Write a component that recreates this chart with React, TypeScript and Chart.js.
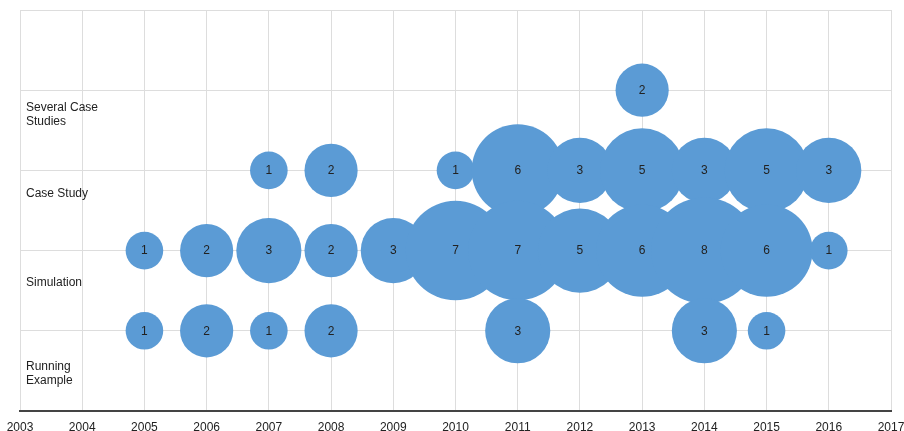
import React, { useEffect, useRef } from "react";
import { Chart, registerables } from "chart.js";

Chart.register(...registerables);

// Categories (bottom to top) and their row index on the y axis
const categories = ["Running Example", "Simulation", "Case Study", "Several Case Studies"];
const categoryLabelLines = [["Running", "Example"], ["Simulation"], ["Case Study"], ["Several Case", "Studies"]];
const xTickYears = [2003, 2004, 2005, 2006, 2007, 2008, 2009, 2010, 2011, 2012, 2013, 2014, 2015, 2016, 2017];

// Publication counts per category
const runningYears = [2005, 2006, 2007, 2008, 2011, 2014, 2015];
const runningCounts = [1, 2, 1, 2, 3, 3, 1];

const simulationYears = [2005, 2006, 2007, 2008, 2009, 2010, 2011, 2012, 2013, 2014, 2015, 2016];
const simulationCounts = [1, 2, 3, 2, 3, 7, 7, 5, 6, 8, 6, 1];

const caseStudyYears = [2007, 2008, 2010, 2011, 2012, 2013, 2014, 2015, 2016];
const caseStudyCounts = [1, 2, 1, 6, 3, 5, 3, 5, 3];

const severalYears = [2013];
const severalCounts = [2];

// label anchor (in y-axis units) for each category text
const labelAnchors = [0.46, 1.6, 2.71, 3.69];

const BUBBLE = "#5b9bd5";
const GRID = "#dddddd";
const TEXT = "#222222";
const FONT = "'Liberation Sans', Arial, Helvetica, sans-serif";

function build(years: number[], counts: number[], row: number) {
  return years.map((y, i) => ({ x: y, y: row, count: counts[i] }));
}

const labelsPlugin = {
  id: "bubbleLabels",
  afterDatasetsDraw(chart: any) {
    const ctx = chart.ctx;
    ctx.save();
    ctx.fillStyle = TEXT;
    ctx.font = `12px ${FONT}`;
    ctx.textAlign = "center";
    ctx.textBaseline = "middle";
    chart.data.datasets.forEach((ds: any, di: number) => {
      const meta = chart.getDatasetMeta(di);
      meta.data.forEach((el: any, i: number) => {
        ctx.fillText(String(ds.data[i].count), el.x, el.y + 0.5);
      });
    });
    // category labels
    const ys = chart.scales.y;
    const left = chart.chartArea.left + 6;
    ctx.textAlign = "left";
    categoryLabelLines.forEach((lines, ci) => {
      const cy = ys.getPixelForValue(labelAnchors[ci]);
      const lh = 14;
      const start = cy - ((lines.length - 1) * lh) / 2;
      lines.forEach((line, li) => ctx.fillText(line, left, start + li * lh));
    });
    ctx.restore();
  },
};

export default function App() {
  const ref = useRef<HTMLCanvasElement>(null);
  useEffect(() => {
    if (!ref.current) return;
    const mk = (label: string, data: any[]) => ({
      label,
      data,
      backgroundColor: BUBBLE,
      hoverBackgroundColor: BUBBLE,
      borderWidth: 0,
      hoverBorderWidth: 0,
      radius: (c: any) => {
        const raw = c.raw;
        return raw ? 18.8 * Math.sqrt(raw.count) : 0;
      },
    });
    const chart = new Chart(ref.current, {
      type: "bubble",
      data: {
        datasets: [
          mk(categories[0], build(runningYears, runningCounts, 1)),
          mk(categories[1], build(simulationYears, simulationCounts, 2)),
          mk(categories[2], build(caseStudyYears, caseStudyCounts, 3)),
          mk(categories[3], build(severalYears, severalCounts, 4)),
        ],
      },
      options: {
        animation: false,
        responsive: true,
        maintainAspectRatio: false,
        layout: { autoPadding: false, padding: { left: 20, top: 10, right: 0, bottom: 0 } },
        plugins: { legend: { display: false }, tooltip: { enabled: false } },
        scales: {
          x: {
            type: "linear",
            min: xTickYears[0],
            max: xTickYears[xTickYears.length - 1],
            afterBuildTicks: (s: any) => {
              s.ticks = xTickYears.map((v) => ({ value: v }));
            },
            afterFit: (s: any) => {
              s.height = 20;
              s.paddingRight = 13;
              s.paddingLeft = 0;
            },
            ticks: {
              autoSkip: false,
              maxRotation: 0,
              padding: 9,
              color: TEXT,
              font: { size: 12, family: FONT },
              callback: (v: any) => String(v),
            },
            grid: { color: GRID, drawTicks: false, lineWidth: 1 },
            border: { display: true, color: "#444444", width: 2 },
          },
          y: {
            type: "linear",
            min: 0,
            max: 5,
            ticks: { display: false, stepSize: 1 },
            grid: { color: GRID, drawTicks: false, lineWidth: 1 },
            border: { display: false },
          },
        },
      },
      plugins: [labelsPlugin],
    });
    return () => chart.destroy();
  }, []);
  return (
    <div style={{ position: "fixed", left: 0, top: 0, width: 904, height: 431, background: "#fff" }}>
      <canvas ref={ref} />
    </div>
  );
}
